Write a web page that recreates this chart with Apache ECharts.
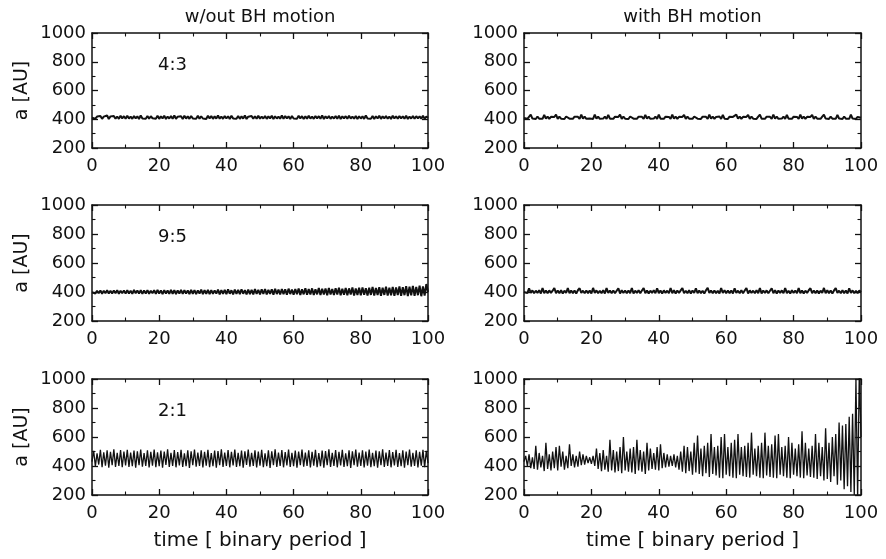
<!DOCTYPE html>
<html>
<head>
<meta charset="utf-8">
<script src="https://cdn.jsdelivr.net/npm/echarts@6/dist/echarts.min.js"></script>
<style>html,body{margin:0;padding:0;background:#fff}#c{width:886px;height:559px}</style>
</head>
<body>
<div id="c"></div>
<script>
// ---- data (a [AU] sampled every half binary period, t = 0 ... 100) ----
const timeStep = 0.5;
const colTitles = ["w/out BH motion", "with BH motion"];
const rowLabels = ["4:3", "9:5", "2:1"];
const xTickLabels = [0, 20, 40, 60, 80, 100];
const yTickLabels = [200, 400, 600, 800, 1000];
const xAxisTitle = "time [ binary period ]";
const yAxisTitle = "a [AU]";

const res43_noBH = [
410,421,404,419,406,423,403,418,405,426,402,420,407,422,404,419,403,424,406,421,
404,425,405,419,403,422,406,420,402,427,405,418,404,423,403,421,407,419,404,424,
403,420,406,425,402,419,405,422,404,426,403,418,406,421,402,424,405,420,403,423,
406,419,404,425,403,421,405,418,402,424,406,422,403,420,405,427,404,419,403,422,
405,421,402,424,406,419,404,423,403,420,405,426,402,418,406,422,404,421,403,425,
404,419,405,423,403,420,406,424,402,421,405,419,404,426,403,422,406,420,402,423,
405,418,403,424,406,421,402,420,404,425,405,419,403,422,406,421,404,427,402,420,
406,423,403,419,405,422,404,425,402,420,406,421,403,424,405,419,404,423,402,421,
405,420,403,426,406,419,404,422,402,421,405,424,403,420,406,423,404,419,402,425,
405,421,403,422,406,420,404,424,402,419,405,423,403,421,406,420,404,425,403,419,410];

const res43_BH = [
408,418,403,416,432,405,417,402,419,404,416,403,431,404,418,402,417,405,416,433,
403,418,404,417,402,419,431,404,416,403,418,405,417,402,432,404,418,403,416,405,
417,402,433,404,418,403,416,405,419,402,431,404,417,403,418,405,416,432,403,418,
404,417,402,419,432,404,416,403,418,405,417,402,431,404,418,403,416,405,419,402,
433,404,417,403,418,405,416,402,432,404,418,403,417,405,416,431,402,418,404,417,
403,419,432,404,416,402,418,405,417,403,433,404,418,402,416,405,419,403,431,404,
417,402,418,405,416,403,432,404,418,402,417,405,416,431,403,419,404,417,402,418,
432,404,416,403,418,405,417,402,433,404,418,403,416,405,419,402,431,404,417,403,
418,405,416,402,432,404,418,403,417,405,416,431,402,419,404,417,403,418,432,405,
416,402,418,404,417,403,431,405,416,402,419,404,417,403,432,405,418,402,416,404,410];

const res95_noBH = [
398,410,389,408,391,411,388,409,392,412,390,408,389,410,391,413,388,409,392,411,
389,412,390,409,388,414,391,410,389,412,387,411,390,413,388,409,391,412,387,414,
389,411,386,413,390,410,387,415,388,412,386,411,389,414,387,412,390,410,386,415,
388,413,385,411,389,416,386,412,388,414,385,413,387,411,389,416,384,413,387,415,
385,418,388,412,384,416,387,414,385,419,388,413,384,417,386,415,383,420,387,414,
384,418,386,421,383,415,387,419,382,422,386,416,383,420,385,418,381,423,386,417,
382,421,385,424,380,418,384,426,381,420,383,425,379,419,384,427,380,422,383,424,
378,428,383,421,379,426,382,430,377,423,381,428,378,425,382,431,376,424,380,429,
377,432,381,426,375,430,380,434,376,427,379,433,374,429,380,436,375,430,378,435,
373,431,379,438,374,433,378,440,372,436,377,442,373,435,378,444,371,438,376,455,400];

const res95_BH = [
400,410,392,426,394,411,391,409,393,412,390,427,392,410,391,411,393,409,428,391,
410,392,412,390,409,393,427,391,411,392,410,390,412,426,393,409,391,411,392,410,
390,428,393,411,391,409,392,412,390,427,393,410,391,411,392,409,426,390,412,393,
410,391,411,392,428,390,409,393,412,391,410,427,392,411,390,409,393,412,391,426,
392,410,390,411,393,409,391,428,392,412,390,410,393,411,427,391,409,392,412,390,
410,393,426,391,411,392,409,390,412,428,393,410,391,411,392,409,390,427,393,412,
391,410,392,411,390,426,393,409,391,412,392,410,428,390,411,393,409,391,412,392,
427,390,410,393,411,391,409,426,392,412,390,410,393,411,391,428,392,409,390,412,
393,410,391,427,392,411,390,409,393,412,426,391,410,392,411,390,409,393,428,391,
412,392,410,390,411,427,393,409,391,412,392,410,390,426,393,411,391,409,392,410,400];

const res21_noBH = [
430,505,398,488,410,512,392,495,402,508,389,498,405,515,394,490,400,510,391,500,
404,512,393,493,399,507,388,501,406,514,395,489,401,509,390,497,403,513,392,494,
398,506,389,500,407,515,394,491,400,510,391,496,404,512,393,488,399,508,387,502,
405,514,395,492,401,509,390,498,403,511,392,489,398,507,388,503,406,515,394,493,
400,510,391,497,404,513,393,490,399,506,389,501,407,514,395,491,401,509,390,499,
403,512,392,488,398,508,387,502,405,515,394,493,400,510,391,496,404,513,393,490,
399,507,388,500,406,514,395,492,401,509,390,498,403,511,392,489,398,506,389,503,
405,515,394,491,400,510,391,497,404,512,393,488,399,508,387,501,406,514,395,493,
401,509,390,499,403,513,392,490,398,507,388,502,405,515,394,492,400,510,391,496,
404,512,393,489,399,508,389,500,406,514,395,491,401,509,390,498,403,511,392,505,420];

const res21_BH = [
430,470,400,480,385,460,380,540,375,490,390,470,365,560,380,480,370,500,385,530,
370,540,395,500,375,470,385,550,400,480,390,470,395,500,405,480,410,470,420,460,
415,470,400,520,380,490,365,510,375,470,360,580,370,510,355,500,365,530,350,600,
370,500,360,520,355,530,345,580,370,510,360,500,345,560,370,520,380,490,375,530,
370,550,385,490,390,480,395,470,400,480,390,470,375,500,360,540,350,530,365,500,
340,560,355,610,345,520,330,540,350,560,325,620,345,530,335,540,320,600,315,620,
340,530,330,560,320,580,315,620,340,530,330,540,325,560,320,630,340,520,330,540,
320,560,315,630,335,540,325,550,320,610,315,620,340,530,330,540,320,600,315,560,
340,520,330,550,320,640,315,560,335,520,325,540,320,620,310,560,330,530,300,660,
310,560,290,600,330,620,270,700,300,680,240,690,260,740,220,760,200,1000,180,1050,600];

const panelSeries = [res43_noBH, res43_BH, res95_noBH, res95_BH, res21_noBH, res21_BH];

// ---- layout ----
const FONT = "DejaVu Sans";
const INK = "#111";
const gridLefts = [92, 524];
const gridWidths = [336, 337];
const gridTops = [33, 205, 379];
const gridHeights = [115, 116, 116];

const grids = [], xAxes = [], yAxes = [], series = [], graphics = [];
const plain = v => String(v);

for (let r = 0; r < 3; r++) {
  for (let c = 0; c < 2; c++) {
    const g = r * 2 + c;
    grids.push({left: gridLefts[c], top: gridTops[r], width: gridWidths[c], height: gridHeights[r],
                outerBoundsMode: 'none', containLabel: false});
    const axisLine = {show: true, onZero: false, lineStyle: {color: INK, width: 1.5}};
    const tick = {show: true, inside: true, length: 6, lineStyle: {color: INK, width: 1.3}};
    const minor = {show: true, splitNumber: 2, length: 3.5, lineStyle: {color: INK, width: 1.1}};
    xAxes.push({
      type: 'value', gridIndex: g, position: 'bottom', min: xTickLabels[0], max: xTickLabels[xTickLabels.length - 1], interval: 20,
      axisLine, axisTick: tick, minorTick: minor, splitLine: {show: false},
      axisLabel: {show: true, margin: 9, fontFamily: FONT, fontSize: 18, color: INK, formatter: plain, showMinLabel: true, showMaxLabel: true},
      name: r === 2 ? xAxisTitle : '', nameLocation: 'middle', nameGap: 36,
      nameTextStyle: {fontFamily: FONT, fontSize: 20, color: INK}
    });
    xAxes.push({
      type: 'value', gridIndex: g, position: 'top', min: 0, max: 100, interval: 20,
      axisLine, axisTick: tick, minorTick: minor, splitLine: {show: false}, axisLabel: {show: false}
    });
    yAxes.push({
      type: 'value', gridIndex: g, position: 'left', min: yTickLabels[0], max: yTickLabels[yTickLabels.length - 1], interval: 200,
      axisLine, axisTick: tick, minorTick: minor, splitLine: {show: false},
      axisLabel: {show: true, margin: 6, fontFamily: FONT, fontSize: 18, color: INK, formatter: plain, showMinLabel: true, showMaxLabel: true},
      name: c === 0 ? yAxisTitle : '', nameLocation: 'middle', nameGap: 60, nameRotate: 90,
      nameTextStyle: {fontFamily: FONT, fontSize: 19, color: INK}
    });
    yAxes.push({
      type: 'value', gridIndex: g, position: 'right', min: 200, max: 1000, interval: 200,
      axisLine, axisTick: tick, minorTick: minor, splitLine: {show: false}, axisLabel: {show: false}
    });
    const vals = panelSeries[g];
    series.push({
      type: 'line', xAxisIndex: g * 2, yAxisIndex: g * 2,
      data: vals.map((v, i) => [i * timeStep, v]),
      showSymbol: false, symbol: 'none', clip: true,
      lineStyle: {color: INK, width: r === 2 ? 1.3 : 2}, animation: false
    });
  }
}

const titles = colTitles.map((t, c) => ({
  text: t, left: gridLefts[c] + gridWidths[c] / 2, top: 8, textAlign: 'center',
  textStyle: {fontFamily: FONT, fontSize: 18, fontWeight: 'normal', color: INK}, padding: 0
}));

rowLabels.forEach((t, r) => {
  graphics.push({type: 'text', left: 158, top: gridTops[r] + 23,
    style: {text: t, font: '18px "DejaVu Sans"', fill: INK}});
});

const chart = echarts.init(document.getElementById('c'), null, {renderer: 'canvas'});
chart.setOption({
  animation: false,
  backgroundColor: '#fff',
  title: titles,
  grid: grids,
  xAxis: xAxes,
  yAxis: yAxes,
  series: series,
  graphic: graphics
});
</script>
</body>
</html>
